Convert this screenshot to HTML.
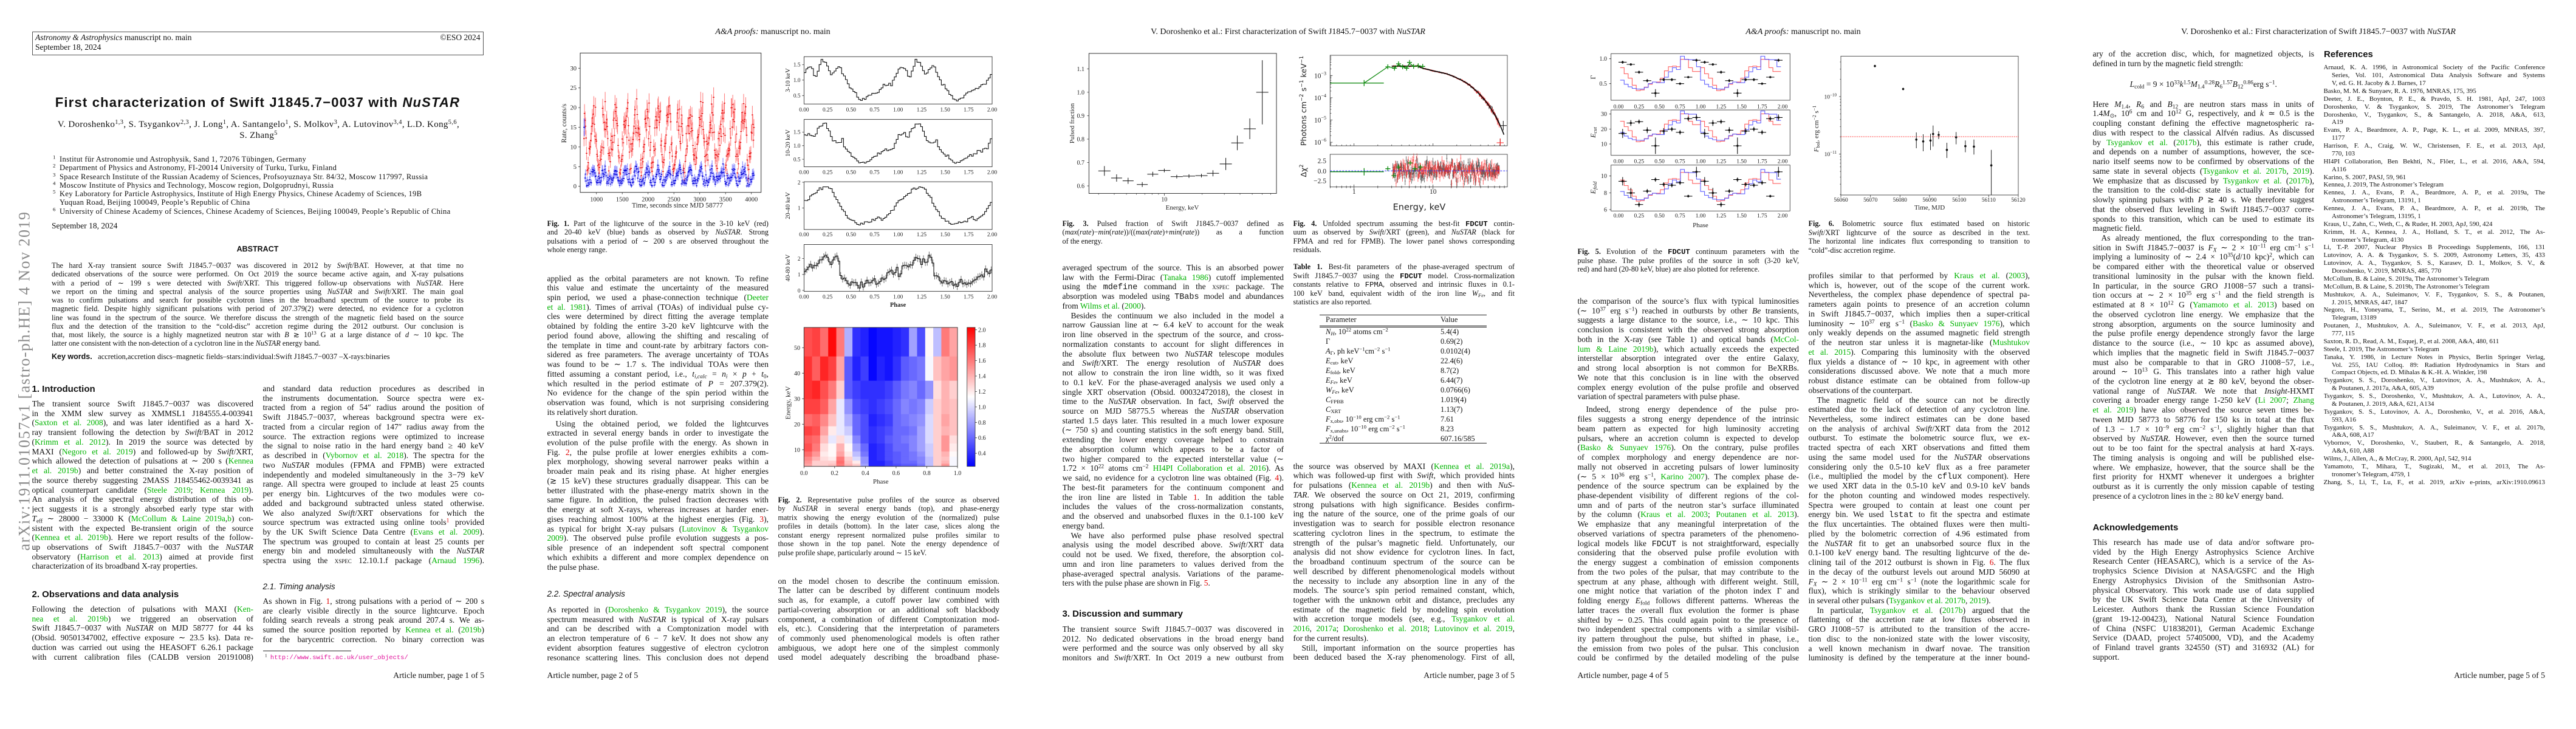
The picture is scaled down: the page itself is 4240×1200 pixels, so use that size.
<!DOCTYPE html>
<html><head><meta charset="utf-8">
<style>
*{box-sizing:border-box}
html,body{margin:0;padding:0;background:#fff}
#w{position:relative;width:4240px;height:1200px;overflow:hidden;background:#fff}
.pg{position:absolute;top:0;width:848px;height:1200px;overflow:hidden;background:#fff}
.a{position:absolute;white-space:nowrap;font-family:"Liberation Serif",serif;color:#111;line-height:1}
.c{position:absolute;width:364.5px;font-family:"Liberation Serif",serif;font-size:13.5px;line-height:15.74px;color:#111}
.c>div{height:15.74px;overflow:hidden;text-align:justify;text-align-last:justify}
.c>div.e{text-align-last:left}
.c>div.i{text-indent:14px}
.cap{font-size:12.2px;line-height:14.5px}
.cap>div{height:14.5px}
.ab{width:678px;font-size:12.2px;line-height:14.25px}
.ab>div{height:14.25px}
.rf{font-size:10.9px;line-height:12.88px}
.rf>div{height:12.88px}
.rf>div.h{padding-left:13.5px}
.sf{font-family:"Liberation Sans",sans-serif}
.g{color:#00b400}
.r{color:#e00000}
sup,sub{font-size:70%;line-height:0}
sup{vertical-align:0.5em}
sub{vertical-align:-0.25em}
.fs{position:absolute;left:0;top:0}
.b{font-weight:bold}
.tt{font-family:"Liberation Mono",monospace}
.rule{position:absolute;height:1px;background:#222}
</style>
</head>
<body>
<div id="w">

<!-- ================= PAGE 1 ================= -->
<div class="pg" style="left:0">
<div style="position:absolute;left:52.5px;top:52px;width:743.5px;height:39px;border:1px solid #555"></div>
<div class="a" style="left:58px;top:55.4px;font-size:13.5px"><i>Astronomy &amp; Astrophysics</i> manuscript no. main</div>
<div class="a" style="left:58px;top:71.4px;font-size:13.5px">September 18, 2024</div>
<div class="a" style="right:57.5px;top:55.4px;font-size:13.5px">©ESO 2024</div>

<div class="a sf b" style="left:0;width:848px;text-align:center;top:158.4px;font-size:22px;letter-spacing:1.2px">First characterization of Swift J1845.7−0037 with <i>NuSTAR</i></div>
<div class="a" style="left:0;width:851px;text-align:center;top:198.4px;font-size:15px;letter-spacing:0.35px">V. Doroshenko<sup>1,3</sup>, S. Tsygankov<sup>2,3</sup>, J. Long<sup>1</sup>, A. Santangelo<sup>1</sup>, S. Molkov<sup>3</sup>, A. Lutovinov<sup>3,4</sup>, L.D. Kong<sup>5,6</sup>,</div>
<div class="a" style="left:0;width:851px;text-align:center;top:216.3px;font-size:15px;letter-spacing:0.35px">S. Zhang<sup>5</sup></div>

<div class="a" style="left:87px;top:255.2px;font-size:12.6px;line-height:14.23px;letter-spacing:0.3px">
<div><span style="display:inline-block;width:11px"><sup>1</sup></span>Institut für Astronomie und Astrophysik, Sand 1, 72076 Tübingen, Germany</div>
<div><span style="display:inline-block;width:11px"><sup>2</sup></span>Department of Physics and Astronomy, FI-20014 University of Turku, Turku, Finland</div>
<div><span style="display:inline-block;width:11px"><sup>3</sup></span>Space Research Institute of the Russian Academy of Sciences, Profsoyuznaya Str. 84/32, Moscow 117997, Russia</div>
<div><span style="display:inline-block;width:11px"><sup>4</sup></span>Moscow Institute of Physics and Technology, Moscow region, Dolgoprudnyi, Russia</div>
<div><span style="display:inline-block;width:11px"><sup>5</sup></span>Key Laboratory for Particle Astrophysics, Institute of High Energy Physics, Chinese Academy of Sciences, 19B</div>
<div><span style="display:inline-block;width:11px"></span>Yuquan Road, Beijing 100049, People’s Republic of China</div>
<div><span style="display:inline-block;width:11px"><sup>6</sup></span>University of Chinese Academy of Sciences, Chinese Academy of Sciences, Beijing 100049, People’s Republic of China</div>
</div>
<div class="a" style="left:85px;top:365.4px;font-size:13.5px">September 18, 2024</div>

<div class="a sf b" style="left:0;width:848px;text-align:center;top:403.8px;font-size:12.5px">ABSTRACT</div>
<div class="c ab" style="left:85px;top:430px">
<div>The hard X-ray transient source Swift J1845.7−0037 was discovered in 2012 by <i>Swift</i>/BAT. However, at that time no</div>
<div>dedicated observations of the source were performed. On Oct 2019 the source became active again, and X-ray pulsations</div>
<div>with a period of ∼ 199 s were detected with <i>Swift</i>/XRT. This triggered follow-up observations with <i>NuSTAR</i>. Here</div>
<div>we report on the timing and spectral analysis of the source properties using <i>NuSTAR</i> and <i>Swift</i>/XRT. The main goal</div>
<div>was to confirm pulsations and search for possible cyclotron lines in the broadband spectrum of the source to probe its</div>
<div>magnetic field. Despite highly significant pulsations with period of 207.379(2) were detected, no evidence for a cyclotron</div>
<div>line was found in the spectrum of the source. We therefore discuss the strength of the magnetic field based on the source</div>
<div>flux and the detection of the transition to the “cold-disc” accretion regime during the 2012 outburst. Our conclusion is</div>
<div>that, most likely, the source is a highly magnetized neutron star with <i>B</i> ≳ 10<sup>13</sup> G at a large distance of <i>d</i> ∼ 10 kpc. The</div>
<div class="e">latter one consistent with the non-detection of a cyclotron line in the <i>NuSTAR</i> energy band.</div>
</div>
<div class="a" style="left:85px;top:581.3px;font-size:12.5px"><span class="sf b">Key words.</span>&nbsp;&nbsp; accretion,accretion discs–magnetic fields–stars:individual:Swift J1845.7−0037 –X-rays:binaries</div>

<div class="a sf b" style="left:52.5px;top:632.5px;font-size:15px">1. Introduction</div>
<div class="c" style="left:52.5px;top:657px">
<div>The transient source Swift J1845.7−0037 was discovered</div>
<div>in the XMM slew survey as XMMSL1 J184555.4-003941</div>
<div>(<span class="g">Saxton et al. 2008</span>), and was later identified as a hard X-</div>
<div>ray transient following the detection by <i>Swift</i>/BAT in 2012</div>
<div>(<span class="g">Krimm et al. 2012</span>). In 2019 the source was detected by</div>
<div>MAXI (<span class="g">Negoro et al. 2019</span>) and followed-up by <i>Swift</i>/XRT,</div>
<div>which allowed the detection of pulsations at ∼ 200 s (<span class="g">Kennea</span></div>
<div><span class="g">et al. 2019b</span>) and better constrained the X-ray position of</div>
<div>the source thereby suggesting 2MASS J18455462-0039341 as</div>
<div>optical counterpart candidate (<span class="g">Steele 2019</span>; <span class="g">Kennea 2019</span>).</div>
<div>An analysis of the spectral energy distribution of this ob-</div>
<div>ject suggests it is a strongly absorbed early type star with</div>
<div><i>T</i><sub>eff</sub> ∼ 28000 − 33000 K (<span class="g">McCollum &amp; Laine 2019a</span>,<span class="g">b</span>) con-</div>
<div>sistent with the expected Be-transient origin of the source</div>
<div>(<span class="g">Kennea et al. 2019b</span>). Here we report results of the follow-</div>
<div>up observations of Swift J1845.7−0037 with the <i>NuSTAR</i></div>
<div>observatory (<span class="g">Harrison et al. 2013</span>) aimed at provide first</div>
<div class="e">characterization of its broadband X-ray properties.</div>
</div>
<div class="a sf b" style="left:52.5px;top:970.5px;font-size:15px">2. Observations and data analysis</div>
<div class="c" style="left:52.5px;top:995px">
<div>Following the detection of pulsations with MAXI (<span class="g">Ken-</span></div>
<div><span class="g">nea et al. 2019b</span>) we triggered an observation of</div>
<div>Swift J1845.7−0037 with <i>NuSTAR</i> on MJD 58777 for 44 ks</div>
<div>(Obsid. 90501347002, effective exposure ∼ 23.5 ks). Data re-</div>
<div>duction was carried out using the HEASOFT 6.26.1 package</div>
<div>with current calibration files (CALDB version 20191008)</div>
</div>
<div class="c" style="left:432.5px;top:632px">
<div>and standard data reduction procedures as described in</div>
<div>the instruments documentation. Source spectra were ex-</div>
<div>tracted from a region of 54″ radius around the position of</div>
<div>Swift J1845.7−0037, whereas background spectra were ex-</div>
<div>tracted from a circular region of 147″ radius away from the</div>
<div>source. The extraction regions were optimized to increase</div>
<div>the signal to noise ratio in the hard energy band ≥ 40 keV</div>
<div>as described in (<span class="g">Vybornov et al. 2018</span>). The spectra for the</div>
<div>two <i>NuSTAR</i> modules (FPMA and FPMB) were extracted</div>
<div>independently and modeled simultaneously in the 3−79 keV</div>
<div>range. All spectra were grouped to include at least 25 counts</div>
<div>per energy bin. Lightcurves of the two modules were co-</div>
<div>added and background subtracted unless stated otherwise.</div>
<div>We also analyzed <i>Swift</i>/XRT observations for which the</div>
<div>source spectrum was extracted using online tools<sup class="r">1</sup> provided</div>
<div>by the UK Swift Science Data Centre (<span class="g">Evans et al. 2009</span>).</div>
<div>The spectrum was grouped to contain at least 25 counts per</div>
<div>energy bin and modeled simultaneously with the <i>NuSTAR</i></div>
<div>spectra using the <span style="font-variant:small-caps">xspec</span> 12.10.1.f package (<span class="g">Arnaud 1996</span>).</div>
</div>
<div class="a sf" style="left:432.5px;top:959.3px;font-size:13.5px;font-style:italic">2.1. Timing analysis</div>
<div class="c" style="left:432.5px;top:982px">
<div>As shown in Fig. <span class="r">1</span>, strong pulsations with a period of ∼ 200 s</div>
<div>are clearly visible directly in the source lightcurve. Epoch</div>
<div>folding search reveals a strong peak around 207.4 s. We as-</div>
<div>sumed the source position reported by <span class="g">Kennea et al.</span> (<span class="g">2019b</span>)</div>
<div>for the barycentric correction. No binary correction was</div>
</div>
<div class="rule" style="left:432.5px;top:1071px;width:145px;height:0.8px"></div>
<div class="a" style="left:436px;top:1078px;font-size:10.5px"><sup>1</sup>&nbsp; <span class="tt" style="color:#e0109a">http://www.swift.ac.uk/user_objects/</span></div>
<div class="a" style="right:51px;top:1104.7px;font-size:13.6px">Article number, page 1 of 5</div>
<div class="a" style="left:-241.5px;top:611.5px;width:563px;height:30px;font-size:26px;line-height:30px;letter-spacing:1.5px;color:#8a8a8a;transform:rotate(-90deg);transform-origin:center center;text-align:center">arXiv:1911.01057v1 [astro-ph.HE] 4 Nov 2019</div>
</div>

<!-- ================= PAGE 2 ================= -->
<div class="pg" style="left:848px">
<div class="a" style="left:0;width:848px;text-align:center;top:46.4px;font-size:14px"><i>A&amp;A proofs:</i> manuscript no. main</div>
<svg class="fs" width="848" height="1200" viewBox="0 0 848 1200" font-family="Liberation Serif, serif" font-size="10.5" fill="#222">
<g id="f1"></g>
<rect x="107" y="87.3" width="297.7" height="229.4" fill="none" stroke="#333" stroke-width="1"/>
<path d="M104 306.7H107M104 274.3H107M104 241.9H107M104 209.5H107M104 177.1H107M104 144.7H107M104 112.3H107M133.7 316.7V319.7M176.2 316.7V319.7M218.7 316.7V319.7M261.2 316.7V319.7M303.7 316.7V319.7M346.2 316.7V319.7M388.7 316.7V319.7" stroke="#333" stroke-width="0.8" fill="none"/>
<g text-anchor="end"><text x="101" y="310.2">0</text><text x="101" y="277.8">5</text><text x="101" y="245.4">10</text><text x="101" y="213">15</text><text x="101" y="180.6">20</text><text x="101" y="148.2">25</text><text x="101" y="115.8">30</text></g>
<g text-anchor="middle"><text x="133.7" y="331.5">1000</text><text x="176.2" y="331.5">1500</text><text x="218.7" y="331.5">2000</text><text x="261.2" y="331.5">2500</text><text x="303.7" y="331.5">3000</text><text x="346.2" y="331.5">3500</text><text x="388.7" y="331.5">4000</text></g>
<text x="267" y="341.5" text-anchor="middle" font-size="11.5">Time, seconds since MJD 58777</text>
<text transform="translate(84,203) rotate(-90)" text-anchor="middle" font-size="11.5">Rate, counts/s</text>

<g id="f2"></g>
<g fill="none" stroke="#333" stroke-width="0.9">
<rect x="475.4" y="93.3" width="309.6" height="77.9"/><rect x="475.4" y="196.6" width="309.6" height="77.9"/><rect x="475.4" y="299.2" width="309.6" height="78.6"/><rect x="475.4" y="402.5" width="309.6" height="77.1"/>
</g>
<path d="M472.4 106.4H475.4M472.4 131.8H475.4M472.4 157.3H475.4M472.4 217.4H475.4M472.4 239.8H475.4M472.4 262.1H475.4M472.4 300H475.4M472.4 342.3H475.4M472.4 425.6H475.4M472.4 451.8H475.4M472.4 478H475.4" stroke="#333" stroke-width="0.8" fill="none"/>
<g font-size="9.3" text-anchor="middle">
<g><text x="475.4" y="183.5">0.00</text><text x="514.1" y="183.5">0.25</text><text x="552.8" y="183.5">0.50</text><text x="591.5" y="183.5">0.75</text><text x="630.2" y="183.5">1.00</text><text x="668.9" y="183.5">1.25</text><text x="707.6" y="183.5">1.50</text><text x="746.3" y="183.5">1.75</text><text x="785" y="183.5">2.00</text></g>
<g><text x="475.4" y="286.5">0.00</text><text x="514.1" y="286.5">0.25</text><text x="552.8" y="286.5">0.50</text><text x="591.5" y="286.5">0.75</text><text x="630.2" y="286.5">1.00</text><text x="668.9" y="286.5">1.25</text><text x="707.6" y="286.5">1.50</text><text x="746.3" y="286.5">1.75</text><text x="785" y="286.5">2.00</text></g>
<g><text x="475.4" y="389">0.00</text><text x="514.1" y="389">0.25</text><text x="552.8" y="389">0.50</text><text x="591.5" y="389">0.75</text><text x="630.2" y="389">1.00</text><text x="668.9" y="389">1.25</text><text x="707.6" y="389">1.50</text><text x="746.3" y="389">1.75</text><text x="785" y="389">2.00</text></g>
<g><text x="475.4" y="491.5">0.00</text><text x="514.1" y="491.5">0.25</text><text x="552.8" y="491.5">0.50</text><text x="591.5" y="491.5">0.75</text><text x="630.2" y="491.5">1.00</text><text x="668.9" y="491.5">1.25</text><text x="707.6" y="491.5">1.50</text><text x="746.3" y="491.5">1.75</text><text x="785" y="491.5">2.00</text></g>
</g>
<g font-size="9.3" text-anchor="end"><text x="469.5" y="109.7">1.5</text><text x="469.5" y="135.1">1.0</text><text x="469.5" y="160.6">0.5</text><text x="469.5" y="220.7">1.5</text><text x="469.5" y="243.1">1.0</text><text x="469.5" y="265.4">0.5</text><text x="469.5" y="303.3">2</text><text x="469.5" y="345.6">1</text><text x="469.5" y="428.9">2</text><text x="469.5" y="455.1">1</text><text x="469.5" y="481.3">0</text></g>
<g font-size="10.5" text-anchor="middle"><text transform="translate(452,132) rotate(-90)">3-10 keV</text><text transform="translate(452,235.5) rotate(-90)">10-20 keV</text><text transform="translate(452,338.5) rotate(-90)">20-40 keV</text><text transform="translate(452,441) rotate(-90)">40-80 keV</text></g>
<text x="630" y="505" text-anchor="middle" font-size="10.5" font-weight="bold">Phase</text>

<g id="hm"></g>
<rect x="475.3" y="539" width="252.7" height="228.7" fill="none" stroke="#333" stroke-width="0.9"/>
<defs><linearGradient id="cb" x1="0" y1="0" x2="0" y2="1"><stop offset="0" stop-color="#ff0000"/><stop offset="0.5" stop-color="#ffffff"/><stop offset="1" stop-color="#0000ff"/></linearGradient></defs>
<rect x="743.7" y="539" width="13.3" height="228.7" fill="url(#cb)" stroke="#333" stroke-width="0.8"/>
<path d="M475.3 767.7V770.7M525.8 767.7V770.7M576.4 767.7V770.7M626.9 767.7V770.7M677.5 767.7V770.7M728 767.7V770.7M472.3 740.3H475.3M472.3 698.3H475.3M472.3 656.3H475.3M472.3 614.3H475.3M472.3 572.3H475.3M757 542.8H760M757 568.2H760M757 593.6H760M757 619H760M757 644.4H760M757 669.9H760M757 695.3H760M757 720.7H760M757 746.1H760" stroke="#333" stroke-width="0.8" fill="none"/>
<g font-size="10" text-anchor="middle"><text x="475.3" y="782">0.0</text><text x="525.8" y="782">0.2</text><text x="576.4" y="782">0.4</text><text x="626.9" y="782">0.6</text><text x="677.5" y="782">0.8</text><text x="728" y="782">1.0</text></g>
<g font-size="10" text-anchor="end"><text x="469" y="743.8">10</text><text x="469" y="701.8">20</text><text x="469" y="659.8">30</text><text x="469" y="617.8">40</text><text x="469" y="575.8">50</text></g>
<g font-size="10"><text x="762" y="546.3">2.0</text><text x="762" y="571.7">1.8</text><text x="762" y="597.1">1.6</text><text x="762" y="622.5">1.4</text><text x="762" y="647.9">1.2</text><text x="762" y="673.4">1.0</text><text x="762" y="698.8">0.8</text><text x="762" y="724.2">0.6</text><text x="762" y="749.6">0.4</text></g>
<text x="601.7" y="796" text-anchor="middle" font-size="11">Phase</text>
<text transform="translate(452.5,663) rotate(-90)" text-anchor="middle" font-size="11">Energy, keV</text>
</svg>

<div class="c cap" style="left:52.5px;top:360.5px">
<div><b>Fig. 1.</b> Part of the lightcurve of the source in the 3-10 keV (red)</div>
<div>and 20-40 keV (blue) bands as observed by <i>NuSTAR</i>. Strong</div>
<div>pulsations with a period of ∼ 200 s are observed throughout the</div>
<div class="e">whole energy range.</div>
</div>
<div class="c" style="left:52.5px;top:450.5px">
<div>applied as the orbital parameters are not known. To refine</div>
<div>this value and estimate the uncertainty of the measured</div>
<div>spin period, we used a phase-connection technique (<span class="g">Deeter</span></div>
<div><span class="g">et al. 1981</span>). Times of arrival (TOAs) of individual pulse cy-</div>
<div>cles were determined by direct fitting the average template</div>
<div>obtained by folding the entire 3-20 keV lightcurve with the</div>
<div>period found above, allowing the shifting and rescaling of</div>
<div>the template in time and count-rate by arbitrary factors con-</div>
<div>sidered as free parameters. The average uncertainty of TOAs</div>
<div>was found to be ∼ 1.7 s. The individual TOAs were then</div>
<div>fitted assuming a constant period, i.e., <i>t<sub>i,calc</sub></i> = <i>n<sub>i</sub></i> × <i>p</i> + <i>t</i><sub>0</sub>,</div>
<div>which resulted in the period estimate of <i>P</i> = 207.379(2).</div>
<div>No evidence for the change of the spin period within the</div>
<div>observation was found, which is not surprising considering</div>
<div class="e">its relatively short duration.</div>
</div>
<div class="c" style="left:52.5px;top:689.5px">
<div class="i">Using the obtained period, we folded the lightcurves</div>
<div>extracted in several energy bands in order to investigate the</div>
<div>evolution of the pulse profile with the energy. As shown in</div>
<div>Fig. <span class="r">2</span>, the pulse profile at lower energies exhibits a com-</div>
<div>plex morphology, showing several narrower peaks within a</div>
<div>broader main peak and its rising phase. At higher energies</div>
<div>(≳ 15 keV) these structures gradually disappear. This can be</div>
<div>better illustrated with the phase-energy matrix shown in the</div>
<div>same figure. In addition, the pulsed fraction decreases with</div>
<div>the energy at soft X-rays, whereas increases at harder ener-</div>
<div>gises reaching almost 100% at the highest energies (Fig. <span class="r">3</span>),</div>
<div>as typical for bright X-ray pulsars (<span class="g">Lutovinov &amp; Tsygankov</span></div>
<div><span class="g">2009</span>). The observed pulse profile evolution suggests a pos-</div>
<div>sible presence of an independent soft spectral component</div>
<div>which exhibits a different and more complex dependence on</div>
<div class="e">the pulse phase.</div>
</div>
<div class="a sf" style="left:52.5px;top:970.8px;font-size:13.5px;font-style:italic">2.2. Spectral analysis</div>
<div class="c" style="left:52.5px;top:996px">
<div>As reported in (<span class="g">Doroshenko &amp; Tsygankov 2019</span>), the source</div>
<div>spectrum measured with <i>NuSTAR</i> is typical of X-ray pulsars</div>
<div>and can be described with a Comptonization model with</div>
<div>an electron temperature of 6 − 7 keV. It does not show any</div>
<div>evident absorption features suggestive of electron cyclotron</div>
<div>resonance scattering lines. This conclusion does not depend</div>
</div>
<div class="c cap" style="left:432.5px;top:815.5px">
<div><b>Fig. 2.</b> Representative pulse profiles of the source as observed</div>
<div>by <i>NuSTAR</i> in several energy bands (top), and phase-energy</div>
<div>matrix showing the energy evolution of the (normalized) pulse</div>
<div>profiles in details (bottom). In the later case, slices along the</div>
<div>constant energy represent normalized pulse profiles similar to</div>
<div>those shown in the top panel. Note the energy dependence of</div>
<div class="e">pulse profile shape, particularly around ∼ 15 keV.</div>
</div>
<div class="c" style="left:432.5px;top:948.6px">
<div>on the model chosen to describe the continuum emission.</div>
<div>The latter can be described by different continuum models</div>
<div>such as, for example, a cutoff power law combined with</div>
<div>partial-covering absorption or an additional soft blackbody</div>
<div>component, a combination of different Comptonization mod-</div>
<div>els, etc.). Considering that the interpretation of parameters</div>
<div>of commonly used phenomenological models is often rather</div>
<div>ambiguous, we adopt here one of the simplest commonly</div>
<div>used model adequately describing the broadband phase-</div>
</div>
<div class="a" style="left:52.5px;top:1104.7px;font-size:13.6px">Article number, page 2 of 5</div>
</div>

<!-- ================= PAGE 3 ================= -->
<div class="pg" style="left:1696px">
<div class="a" style="left:0;width:848px;text-align:center;top:46.4px;font-size:14px">V. Doroshenko et al.: First characterization of Swift J1845.7−0037 with <i>NuSTAR</i></div>
<svg class="fs" width="848" height="1200" viewBox="0 0 848 1200" font-family="Liberation Serif, serif" font-size="10.5" fill="#222">
<rect x="96.4" y="87.9" width="308.6" height="230.5" fill="none" stroke="#333" stroke-width="1"/>
<path d="M93.4 113.3H96.4M93.4 151.9H96.4M93.4 190.4H96.4M93.4 229H96.4M93.4 267.5H96.4M93.4 306H96.4M220.4 318.4V322M112.2 318.4V320.4M138 318.4V320.4M158.1 318.4V320.4M174.5 318.4V320.4M188.3 318.4V320.4M200.3 318.4V320.4M210.9 318.4V320.4M282.7 318.4V320.4M319.2 318.4V320.4M345 318.4V320.4M365.1 318.4V320.4M381.5 318.4V320.4M395.4 318.4V320.4" stroke="#333" stroke-width="0.8" fill="none"/>
<path d="M111.8 281.4H131.8M121.8 273.4V289.4M132.9 293H150.9M141.9 287V299M151.8 297.6H169.8M160.8 292.6V302.6M175.1 303.8H193.1M184.1 299.8V307.8M192.4 286.8H210.4M201.4 282.8V290.8M210.4 280.6H230.4M220.4 277.6V283.6M230.9 290.7H250.9M240.9 287.7V293.7M251 289.9H271M261 286.9V292.9M271.5 289.1H291.5M281.5 286.1V292.1M290.5 285.3H310.5M300.5 280.3V290.3M311.6 269.9H331.6M321.6 259.9V279.9M330.6 235.2H350.6M340.6 223.2V247.2M351.1 212H371.1M361.1 195V229M371.7 151.9H391.7M381.7 99.1V204.7" stroke="#111" stroke-width="1" fill="none"/>
<g text-anchor="end" font-size="10"><text x="89" y="116.8">1.1</text><text x="89" y="155.4">1.0</text><text x="89" y="193.9">0.9</text><text x="89" y="232.5">0.8</text><text x="89" y="271">0.7</text><text x="89" y="309.5">0.6</text></g>
<text x="220.4" y="331.5" text-anchor="middle" font-size="10">10</text>
<text x="250" y="345" text-anchor="middle" font-size="11">Energy, keV</text>
<text transform="translate(72,203) rotate(-90)" text-anchor="middle" font-size="11">Pulsed fraction</text>

<g id="f4"></g>
<g fill="none" stroke="#444" stroke-width="0.9"><rect x="493.3" y="91" width="291.7" height="149"/><rect x="493.3" y="254" width="291.7" height="53.7"/></g>
<path d="M493.3 136.7H581.7M549.3 131.7V141.7M545.3 136.7H553.3M549.3 136.7L588.3 110L599.3 112L606 106L612.7 110L619.3 112L624 104L630.7 109L638.3 108.3L645.7 109.3M584.3 110H592.3M588.3 106V114M595.3 112.3H603.3M599.3 108.3V116.3M602 105H610M606 101V109M608.7 110H616.7M612.7 106V114M615.3 112.3H623.3M619.3 108.3V116.3M620 102.7H628M624 98.7V106.7M626.7 109.3H634.7M630.7 105.3V113.3M634.3 108.3H642.3M638.3 104.3V112.3M641.7 109.3H649.7M645.7 105.3V113.3" stroke="#108a10" stroke-width="1.3" fill="none"/>
<path d="M493.3 282.7H581.7M549.3 276.7V288.7M584.3 277.7H592.3M588.3 273.7V281.7M594.3 289H602.3M598.3 285V293M602 275H610M606 271V279M621 268.3H629M625 264.3V272.3M628.7 277.7H636.7M632.7 273.7V281.7M638.3 275H646.3M642.3 271V279" stroke="#108a10" stroke-width="1.3" fill="none"/>
<path d="M493.3 281.3H785" stroke="#2a2aff" stroke-width="1" stroke-dasharray="3 2" fill="none"/>
<path d="M773 206.7H784M778.3 199V214.5M767.5 235H779M773.3 228V240" stroke="#111" stroke-width="1" fill="none"/>
<path d="M767.5 235H779M773.3 228V240" stroke="#ff2020" stroke-width="1" fill="none"/>
<g font-size="11.5" text-anchor="end"><text x="487" y="128.3">10<tspan dy="-5" font-size="8">−3</tspan></text><text x="487" y="165">10<tspan dy="-5" font-size="8">−4</tspan></text><text x="487" y="201.7">10<tspan dy="-5" font-size="8">−5</tspan></text><text x="487" y="238">10<tspan dy="-5" font-size="8">−6</tspan></text><text x="487" y="268.3">2.5</text><text x="487" y="285.3">0.0</text><text x="487" y="301.7">−2.5</text></g>
<g font-size="11.5" text-anchor="middle"><text x="532.7" y="319">1</text><text x="662.7" y="319">10</text></g>
<text x="640" y="345.5" text-anchor="middle" font-size="14.5" font-family="DejaVu Sans, sans-serif">Energy, keV</text>
<text transform="translate(454,166) rotate(-90)" text-anchor="middle" font-size="12.5" font-family="DejaVu Sans, sans-serif">Photons cm<tspan dy="-5" font-size="8.5">−2</tspan><tspan dy="5"> s</tspan><tspan dy="-5" font-size="8.5">−1</tspan><tspan dy="5"> keV</tspan><tspan dy="-5" font-size="8.5">−1</tspan></text>
<text transform="translate(454,281) rotate(-90)" text-anchor="middle" font-size="12.5" font-family="DejaVu Sans, sans-serif">Δχ<tspan dy="-5" font-size="8.5">2</tspan></text>
</svg>
<div class="c cap" style="left:52.5px;top:360.5px">
<div><b>Fig. 3.</b> Pulsed fraction of Swift J1845.7−0037 defined as</div>
<div>(<i>max</i>(<i>rate</i>)−<i>min</i>(<i>rate</i>))/((<i>max</i>(<i>rate</i>)+<i>min</i>(<i>rate</i>)) as a function</div>
<div class="e">of the energy.</div>
</div>
<div class="c" style="left:52.5px;top:433px">
<div>averaged spectrum of the source. This is an absorbed power</div>
<div>law with the Fermi-Dirac (<span class="g">Tanaka 1986</span>) cutoff implemented</div>
<div>using the <span class="tt">mdefine</span> command in the <span style="font-variant:small-caps">xspec</span> package. The</div>
<div>absorption was modeled using <span class="tt">TBabs</span> model and abundances</div>
<div class="e">from <span class="g">Wilms et al.</span> (<span class="g">2000</span>).</div>
<div class="i">Besides the continuum we also included in the model a</div>
<div>narrow Gaussian line at ∼ 6.4 keV to account for the weak</div>
<div>iron line observed in the spectrum of the source, and cross-</div>
<div>normalization constants to account for slight differences in</div>
<div>the absolute flux between two <i>NuSTAR</i> telescope modules</div>
<div>and <i>Swift</i>/XRT. The energy resolution of <i>NuSTAR</i> does</div>
<div>not allow to constrain the iron line width, so it was fixed</div>
<div>to 0.1 keV. For the phase-averaged analysis we used only a</div>
<div>single XRT observation (Obsid. 00032472018), the closest in</div>
<div>time to the <i>NuSTAR</i> observation. In fact, <i>Swift</i> observed the</div>
<div>source on MJD 58775.5 whereas the <i>NuSTAR</i> observation</div>
<div>started 1.5 days later. This resulted in a much lower exposure</div>
<div>(∼ 750 s) and counting statistics in the soft energy band. Still,</div>
<div>extending the lower energy coverage helped to constrain</div>
<div>the absorption column which appears to be a factor of</div>
<div>two higher compared to the expected interstellar value (∼</div>
<div>1.72 × 10<sup>22</sup> atoms cm<sup>−2</sup> <span class="g">HI4PI Collaboration et al. 2016</span>). As</div>
<div>we said, no evidence for a cyclotron line was obtained (Fig. <span class="r">4</span>).</div>
<div>The best-fit parameters for the continuum component and</div>
<div>the iron line are listed in Table <span class="r">1</span>. In addition the table</div>
<div>includes the values of the cross-normalization constants,</div>
<div>and the observed and unabsorbed fluxes in the 0.1-100 keV</div>
<div class="e">energy band.</div>
<div class="i">We have also performed pulse phase resolved spectral</div>
<div>analysis using the model described above. <i>Swift</i>/XRT data</div>
<div>could not be used. We fixed, therefore, the absorption col-</div>
<div>umn and iron line parameters to values derived from the</div>
<div>phase-averaged spectral analysis. Variations of the parame-</div>
<div class="e">ters with the pulse phase are shown in Fig. <span class="r">5</span>.</div>
</div>
<div class="a sf b" style="left:52.5px;top:1002.5px;font-size:15px">3. Discussion and summary</div>
<div class="c" style="left:52.5px;top:1028px">
<div>The transient source Swift J1845.7−0037 was discovered in</div>
<div>2012. No dedicated observations in the broad energy band</div>
<div>were performed and the source was only observed by all sky</div>
<div>monitors and <i>Swift</i>/XRT. In Oct 2019 a new outburst from</div>
</div>
<div class="c cap" style="left:432.5px;top:360.5px">
<div><b>Fig. 4.</b> Unfolded spectrum assuming the best-fit <span class="tt b">FDCUT</span> contin-</div>
<div>uum as observed by <i>Swift</i>/XRT (green), and <i>NuSTAR</i> (black for</div>
<div>FPMA and red for FPMB). The lower panel shows corresponding</div>
<div class="e">residuals.</div>
</div>
<div class="c cap" style="left:432.5px;top:432px;line-height:14.3px">
<div><b>Table 1.</b> Best-fit parameters of the phase-averaged spectrum of</div>
<div>Swift J1845.7−0037 using the <span class="tt b">FDCUT</span> model. Cross-normalization</div>
<div>constants relative to <span class="tt">FPMA</span>, observed and intrinsic fluxes in 0.1-</div>
<div>100 keV band, equivalent width of the iron line <i>W<sub>Fe</sub></i>, and fit</div>
<div class="e">statistics are also reported.</div>
</div>
<div class="rule" style="left:476px;top:518px;width:275px"></div>
<div class="rule" style="left:476px;top:535.5px;width:275px"></div>
<div class="rule" style="left:476px;top:538px;width:275px"></div>
<div class="rule" style="left:476px;top:729px;width:275px"></div>
<div class="a" style="left:486px;top:519.8px;font-size:12.5px">Parameter</div>
<div class="a" style="left:675px;top:519.8px;font-size:12.5px">Value</div>
<div class="a" style="left:486px;top:538.2px;font-size:12.5px;line-height:16px">
<div><i>N<sub>H</sub></i>, 10<sup>22</sup> atoms cm<sup>−2</sup></div>
<div>Γ</div>
<div><i>A</i><sub>Γ</sub>, ph keV<sup>−1</sup>cm<sup>−2</sup> s<sup>−1</sup></div>
<div><i>E</i><sub>cut</sub>, keV</div>
<div><i>E</i><sub>fold</sub>, keV</div>
<div><i>E<sub>Fe</sub></i>, keV</div>
<div><i>W<sub>Fe</sub></i>, keV</div>
<div><i>C</i><sub>FPBB</sub></div>
<div><i>C</i><sub>XRT</sub></div>
<div><i>F</i><sub>x,obs</sub>, 10<sup>−10</sup> erg cm<sup>−2</sup> s<sup>−1</sup></div>
<div><i>F</i><sub>x,unabs</sub>, 10<sup>−10</sup> erg cm<sup>−2</sup> s<sup>−1</sup></div>
<div>χ<sup>2</sup>/dof</div>
</div>
<div class="a" style="left:675px;top:538.2px;font-size:12.5px;line-height:16px">
<div>5.4(4)</div><div>0.69(2)</div><div>0.0102(4)</div><div>22.4(6)</div><div>8.7(2)</div><div>6.44(7)</div><div>0.0766(6)</div><div>1.019(4)</div><div>1.13(7)</div><div>7.61</div><div>8.23</div><div>607.16/585</div>
</div>
<div class="c" style="left:432.5px;top:759.7px">
<div>the source was observed by MAXI (<span class="g">Kennea et al. 2019a</span>),</div>
<div>which was followed-up first with <i>Swift</i>, which provided hints</div>
<div>for pulsations (<span class="g">Kennea et al. 2019b</span>) and then with <i>NuS-</i></div>
<div><i>TAR</i>. We observed the source on Oct 21, 2019, confirming</div>
<div>strong pulsations with high significance. Besides confirm-</div>
<div>ing the nature of the source, one of the prime goals of our</div>
<div>investigation was to search for possible electron resonance</div>
<div>scattering cyclotron lines in the spectrum, to estimate the</div>
<div>strength of the pulsar’s magnetic field. Unfortunately, our</div>
<div>analysis did not show evidence for cyclotron lines. In fact,</div>
<div>the broadband continuum spectrum of the source can be</div>
<div>well described by different phenomenological models without</div>
<div>the necessity to include any absorption line in any of the</div>
<div>models. The source’s spin period remained constant, which,</div>
<div>together with the unknown orbit and distance, precludes any</div>
<div>estimate of the magnetic field by modeling spin evolution</div>
<div>with accretion torque models (see, e.g., <span class="g">Tsygankov et al.</span></div>
<div><span class="g">2016</span>, <span class="g">2017a</span>; <span class="g">Doroshenko et al. 2018</span>; <span class="g">Lutovinov et al. 2019</span>,</div>
<div class="e">for the current results).</div>
<div class="i">Still, important information on the source properties has</div>
<div>been deduced based the X-ray phenomenology. First of all,</div>
</div>
<div class="a" style="right:51px;top:1104.7px;font-size:13.6px">Article number, page 3 of 5</div>
</div>

<!-- ================= PAGE 4 ================= -->
<div class="pg" style="left:2544px">
<div class="a" style="left:0;width:848px;text-align:center;top:46.4px;font-size:14px"><i>A&amp;A proofs:</i> manuscript no. main</div>
<svg class="fs" width="848" height="1200" viewBox="0 0 848 1200" font-family="Liberation Serif, serif" font-size="10" fill="#222">
<g id="f5"></g>
<g fill="none" stroke="#444" stroke-width="0.9"><rect x="107.7" y="88.3" width="294.6" height="76.7"/><rect x="107.7" y="181" width="294.6" height="74.7"/><rect x="107.7" y="271.7" width="294.6" height="75.6"/></g>
<path d="M104.7 96.7H107.7M104.7 137.7H107.7M104.7 187.7H107.7M104.7 212.4H107.7M104.7 237H107.7M104.7 289.7H107.7M104.7 317.4H107.7M104.7 345H107.7" stroke="#333" stroke-width="0.8" fill="none"/>
<g text-anchor="middle" font-size="9.5">
<g><text x="120" y="178.5">0.00</text><text x="153.75" y="178.5">0.25</text><text x="187.5" y="178.5">0.50</text><text x="221.25" y="178.5">0.75</text><text x="255" y="178.5">1.00</text><text x="288.75" y="178.5">1.25</text><text x="322.5" y="178.5">1.50</text><text x="356.25" y="178.5">1.75</text><text x="390" y="178.5">2.00</text></g>
<g><text x="120" y="268.5">0.00</text><text x="153.75" y="268.5">0.25</text><text x="187.5" y="268.5">0.50</text><text x="221.25" y="268.5">0.75</text><text x="255" y="268.5">1.00</text><text x="288.75" y="268.5">1.25</text><text x="322.5" y="268.5">1.50</text><text x="356.25" y="268.5">1.75</text><text x="390" y="268.5">2.00</text></g>
<g><text x="120" y="357.8">0.00</text><text x="153.75" y="357.8">0.25</text><text x="187.5" y="357.8">0.50</text><text x="221.25" y="357.8">0.75</text><text x="255" y="357.8">1.00</text><text x="288.75" y="357.8">1.25</text><text x="322.5" y="357.8">1.50</text><text x="356.25" y="357.8">1.75</text><text x="390" y="357.8">2.00</text></g>
</g>
<g text-anchor="end" font-size="10"><text x="101" y="100.2">1.0</text><text x="101" y="141.2">0.5</text><text x="101" y="191.2">30</text><text x="101" y="215.9">20</text><text x="101" y="240.5">10</text><text x="101" y="293.2">10</text><text x="101" y="320.9">8</text><text x="101" y="348.5">6</text></g>
<text x="255" y="374" text-anchor="middle" font-size="11">Phase</text>
<g font-size="12" text-anchor="middle"><text transform="translate(82,127) rotate(-90)">Γ</text><text transform="translate(82,218) rotate(-90)"><tspan font-style="italic">E</tspan><tspan font-size="8.5" font-style="italic" dy="2">cut</tspan></text><text transform="translate(82,309) rotate(-90)"><tspan font-style="italic">E</tspan><tspan font-size="8.5" font-style="italic" dy="2">fold</tspan></text></g>

<g fill="none" stroke="#444" stroke-width="0.9"><rect x="486" y="92.5" width="292" height="228.5"/></g>
<path d="M486 225H778" stroke="#ff2020" stroke-width="1" stroke-dasharray="1.5 1.5" fill="none"/>
<path d="M486 321V324.5M534.7 321V324.5M583.3 321V324.5M632 321V324.5M680.7 321V324.5M729.3 321V324.5M778 321V324.5M483 159H486M483 253.7H486M484.5 130.5H486M484.5 113.8H486M484.5 102H486M484.5 225.2H486M484.5 208.5H486M484.5 196.7H486M484.5 187.5H486M484.5 180H486M484.5 173.7H486M484.5 168.2H486M484.5 163.5H486M484.5 258H486M484.5 262.9H486M484.5 268.4H486M484.5 274.7H486M484.5 282.2H486M484.5 291.4H486M484.5 303.2H486M484.5 320.2H486" stroke="#333" stroke-width="0.8" fill="none"/>
<path d="M610.2 218V244M621.5 221V249M633.5 220V247M637.8 206.6V241.3M647 216V229M660.5 235V260M675.7 217.4V237.5M690.9 231.3V250.6M705 229.8V254.4M733.6 246.7V320.7M542 106.7V110.7M588.5 144.5V148.5" stroke="#222" stroke-width="1" fill="none"/>
<g fill="#111"><circle cx="542" cy="108.7" r="1.8"/><circle cx="588.5" cy="146.5" r="1.8"/><circle cx="610.2" cy="229.8" r="1.8"/><circle cx="621.5" cy="232.8" r="1.8"/><circle cx="633.5" cy="231.3" r="1.8"/><circle cx="637.8" cy="220.5" r="1.8"/><circle cx="647" cy="222" r="1.8"/><circle cx="660.5" cy="246.7" r="1.8"/><circle cx="675.7" cy="226" r="1.8"/><circle cx="690.9" cy="240.6" r="1.8"/><circle cx="705" cy="241.3" r="1.8"/><circle cx="733.6" cy="272.2" r="1.8"/></g>
<g text-anchor="middle" font-size="9.3"><text x="486" y="332">56060</text><text x="534.7" y="332">56070</text><text x="583.3" y="332">56080</text><text x="632" y="332">56090</text><text x="680.7" y="332">56100</text><text x="729.3" y="332">56110</text><text x="778" y="332">56120</text></g>
<g text-anchor="end" font-size="9.5"><text x="479" y="162.5">10<tspan dy="-4" font-size="7">−10</tspan></text><text x="479" y="257.2">10<tspan dy="-4" font-size="7">−11</tspan></text></g>
<text x="632" y="345" text-anchor="middle" font-size="11">Time, MJD</text>
<text transform="translate(449,212) rotate(-90)" text-anchor="middle" font-size="11"><tspan font-style="italic">F</tspan><tspan font-size="8" dy="2">bol</tspan><tspan dy="-2">, erg cm</tspan><tspan font-size="8" dy="-4">−2</tspan><tspan dy="4"> s</tspan><tspan font-size="8" dy="-4">−1</tspan></text>
</svg>
<div class="c cap" style="left:52.5px;top:407px">
<div><b>Fig. 5.</b> Evolution of the <span class="tt b">FDCUT</span> continuum parameters with the</div>
<div>pulse phase. The pulse profiles of the source in soft (3-20 keV,</div>
<div class="e">red) and hard (20-80 keV, blue) are also plotted for reference.</div>
</div>
<div class="c" style="left:52.5px;top:488px">
<div>the comparison of the source’s flux with typical luminosities</div>
<div>(∼ 10<sup>37</sup> erg s<sup>−1</sup>) reached in outbursts by other <i>Be</i> transients,</div>
<div>suggests a large distance to the source, i.e., ∼ 10 kpc. This</div>
<div>conclusion is consistent with the observed strong absorption</div>
<div>both in the X-ray (see Table 1) and optical bands (<span class="g">McCol-</span></div>
<div><span class="g">lum &amp; Laine 2019b</span>), which actually exceeds the expected</div>
<div>interstellar absorption integrated over the entire Galaxy,</div>
<div>and strong local absorption is not common for BeXRBs.</div>
<div>We note that this conclusion is in line with the observed</div>
<div>complex energy evolution of the pulse profile and observed</div>
<div class="e">variation of spectral parameters with pulse phase.</div>
</div>
<div class="c" style="left:52.5px;top:666.4px">
<div class="i">Indeed, strong energy dependence of the pulse pro-</div>
<div>files suggests a strong energy dependence of the intrinsic</div>
<div>beam pattern as expected for high luminosity accreting</div>
<div>pulsars, where an accretion column is expected to develop</div>
<div>(<span class="g">Basko &amp; Sunyaev 1976</span>). On the contrary, pulse profiles</div>
<div>of complex morphology and energy dependence are nor-</div>
<div>mally not observed in accreting pulsars of lower luminosity</div>
<div>(∼ 5 × 10<sup>36</sup> erg s<sup>−1</sup>, <span class="g">Karino 2007</span>). The complex phase de-</div>
<div>pendence of the source spectrum can be explained by the</div>
<div>phase-dependent visibility of different regions of the col-</div>
<div>umn and of parts of the neutron star’s surface illuminated</div>
<div>by the column (<span class="g">Kraus et al. 2003</span>; <span class="g">Poutanen et al. 2013</span>).</div>
<div>We emphasize that any meaningful interpretation of the</div>
<div>observed variations of spectra parameters of the phenomeno-</div>
<div>logical models like <span class="tt">FDCUT</span> is not straightforward, especially</div>
<div>considering that the observed pulse profile evolution with</div>
<div>the energy suggest a combination of emission components</div>
<div>from the two poles of the pulsar, that may contribute to the</div>
<div>spectrum at any phase, although with different weight. Still,</div>
<div>one might notice that variation of the photon index Γ and</div>
<div>folding energy <i>E</i><sub>fold</sub> follows different patterns. Whereas the</div>
<div>latter traces the overall flux evolution the former is phase</div>
<div>shifted by ∼ 0.25. This could again point to the presence of</div>
<div>two independent spectral components with a similar visibil-</div>
<div>ity pattern throughout the pulse, but shifted in phase, i.e.,</div>
<div>the emission from two poles of the pulsar. This conclusion</div>
<div>could be confirmed by the detailed modeling of the pulse</div>
</div>
<div class="c cap" style="left:432.5px;top:361px">
<div><b>Fig. 6.</b> Bolometric source flux estimated based on historic</div>
<div><i>Swift</i>/XRT lightcurve of the source as described in the text.</div>
<div>The horizontal line indicates flux corresponding to transition to</div>
<div class="e">“cold”-disc accretion regime.</div>
</div>
<div class="c" style="left:432.5px;top:446px">
<div>profiles similar to that performed by <span class="g">Kraus et al.</span> (<span class="g">2003</span>),</div>
<div>which is, however, out of the scope of the current work.</div>
<div>Nevertheless, the complex phase dependence of spectral pa-</div>
<div>rameters again points to presence of an accretion column</div>
<div>in Swift J1845.7−0037, which implies then a super-critical</div>
<div>luminosity ∼ 10<sup>37</sup> erg s<sup>−1</sup> (<span class="g">Basko &amp; Sunyaev 1976</span>), which</div>
<div>only weakly depends on the assumed magnetic field strength</div>
<div>of the neutron star unless it is magnetar-like (<span class="g">Mushtukov</span></div>
<div><span class="g">et al. 2015</span>). Comparing this luminosity with the observed</div>
<div>flux yields a distance of ∼ 10 kpc, in agreement with other</div>
<div>considerations discussed above. We note that a much more</div>
<div>robust distance estimate can be obtained from follow-up</div>
<div class="e">observations of the counterpart.</div>
<div class="i">The magnetic field of the source can not be directly</div>
<div>estimated due to the lack of detection of any cyclotron line.</div>
<div>Nevertheless, some indirect estimates can be done based</div>
<div>on the analysis of archival <i>Swift</i>/XRT data from the 2012</div>
<div>outburst. To estimate the bolometric source flux, we ex-</div>
<div>tracted spectra of each XRT observations and fitted them</div>
<div>using the same model used for the <i>NuSTAR</i> observations</div>
<div>considering only the 0.5-10 keV flux as a free parameter</div>
<div>(i.e., multiplied the model by the <span class="tt">cflux</span> component). Here</div>
<div>we used XRT data in the 0.5-10 keV and 0.9-10 keV bands</div>
<div>for the photon counting and windowed modes respectively.</div>
<div>Spectra were grouped to contain at least one count per</div>
<div>energy bin. We used <span class="tt">lstat</span> to fit the spectra and estimate</div>
<div>the flux uncertainties. The obtained fluxes were then multi-</div>
<div>plied by the bolometric correction of 4.96 estimated from</div>
<div>the <i>NuSTAR</i> fit to get an unabsorbed source flux in the</div>
<div>0.1-100 keV energy band. The resulting lightcurve of the de-</div>
<div>clining tail of the 2012 outburst is shown in Fig. <span class="r">6</span>. The flux</div>
<div>in the decay of the outburst levels out around MJD 56090 at</div>
<div><i>F<sub>X</sub></i> ∼ 2 × 10<sup>−11</sup> erg cm<sup>−1</sup> s<sup>−1</sup> (note the logarithmic scale for</div>
<div>flux), which is strikingly similar to the behaviour observed</div>
<div class="e">in several other pulsars (<span class="g">Tsygankov et al. 2017b</span>, <span class="g">2019</span>).</div>
<div class="i">In particular, <span class="g">Tsygankov et al.</span> (<span class="g">2017b</span>) argued that the</div>
<div>flattening of the accretion rate at low fluxes observed in</div>
<div>GRO J1008−57 is attributed to the transition of the accre-</div>
<div>tion disc to the non-ionized state with the lower viscosity,</div>
<div>a well known mechanism in dwarf novae. The transition</div>
<div>luminosity is defined by the temperature at the inner bound-</div>
</div>
<div class="a" style="left:52.5px;top:1104.7px;font-size:13.6px">Article number, page 4 of 5</div>
</div>

<!-- ================= PAGE 5 ================= -->
<div class="pg" style="left:3392px">
<div class="a" style="left:0;width:848px;text-align:center;top:46.4px;font-size:14px">V. Doroshenko et al.: First characterization of Swift J1845.7−0037 with <i>NuSTAR</i></div>
<div class="c" style="left:52.5px;top:81px">
<div>ary of the accretion disc, which, for magnetized objects, is</div>
<div class="e">defined in turn by the magnetic field strength:</div>
</div>
<div class="a" style="left:52.5px;width:364.5px;text-align:center;top:132.2px;font-size:13.5px"><i>L</i><sub>cold</sub> = 9 × 10<sup>33</sup><i>k</i><sup>1.5</sup><i>M</i><sub>1.4</sub><sup>0.28</sup><i>R</i><sub>6</sub><sup>1.57</sup><i>B</i><sub>12</sub><sup>0.86</sup>erg s<sup>−1</sup>.</div>
<div class="c" style="left:52.5px;top:163.7px">
<div>Here <i>M</i><sub>1.4</sub>, <i>R</i><sub>6</sub> and <i>B</i><sub>12</sub> are neutron stars mass in units of</div>
<div>1.4<i>M</i><sub>⊙</sub>, 10<sup>6</sup> cm and 10<sup>12</sup> G, respectively, and <i>k</i> ≃ 0.5 is the</div>
<div>coupling constant defining the effective magnetospheric ra-</div>
<div>dius with respect to the classical Alfvén radius. As discussed</div>
<div>by <span class="g">Tsygankov et al.</span> (<span class="g">2017b</span>), this estimate is rather crude,</div>
<div>and depends on a number of assumptions, however, the sce-</div>
<div>nario itself seems now to be confirmed by observations of the</div>
<div>same state in several objects (<span class="g">Tsygankov et al. 2017b</span>, <span class="g">2019</span>).</div>
<div>We emphasize that as discussed by <span class="g">Tsygankov et al.</span> (<span class="g">2017b</span>),</div>
<div>the transition to the cold-disc state is actually inevitable for</div>
<div>slowly spinning pulsars with <i>P</i> ≳ 40 s. We therefore suggest</div>
<div>that the observed flux leveling in Swift J1845.7−0037 corre-</div>
<div>sponds to this transition, which can be used to estimate its</div>
<div class="e">magnetic field.</div>
</div>
<div class="c" style="left:52.5px;top:384px">
<div class="i">As already mentioned, the flux corresponding to the tran-</div>
<div>sition in Swift J1845.7−0037 is <i>F<sub>X</sub></i> ∼ 2 × 10<sup>−11</sup> erg cm<sup>−1</sup> s<sup>−1</sup></div>
<div>implying a luminosity of ∼ 2.4 × 10<sup>35</sup>(<i>d</i>/10 kpc)<sup>2</sup>, which can</div>
<div>be compared either with the theoretical value or observed</div>
<div>transitional luminosity in the pulsar with the known field.</div>
<div>In particular, in the source GRO J1008−57 such a transi-</div>
<div>tion occurs at ∼ 2 × 10<sup>35</sup> erg s<sup>−1</sup> and the field strength is</div>
<div>estimated at 8 × 10<sup>12</sup> G (<span class="g">Yamamoto et al. 2013</span>) based on</div>
<div>the observed cyclotron line energy. We emphasize that the</div>
<div>strong absorption, arguments on the source luminosity and</div>
<div>the pulse profile energy dependence strongly favor the large</div>
<div>distance to the source (i.e., ∼ 10 kpc as assumed above),</div>
<div>which implies that the magnetic field in Swift J1845.7−0037</div>
<div>must also be comparable to that in GRO J1008−57, i.e.,</div>
<div>around ∼ 10<sup>13</sup> G. This translates into a rather high value</div>
<div>of the cyclotron line energy at ≳ 80 keV, beyond the obser-</div>
<div>vational range of <i>NuSTAR</i>. We note that <i>Insight</i>-HXMT</div>
<div>covering a broader energy range 1-250 keV (<span class="g">Li 2007</span>; <span class="g">Zhang</span></div>
<div><span class="g">et al. 2019</span>) have also observed the source seven times be-</div>
<div>tween MJD 58773 to 58776 for 150 ks in total at the flux</div>
<div>of 1.3 − 1.7 × 10<sup>−9</sup> erg cm<sup>−2</sup> s<sup>−1</sup>, slightly higher than that</div>
<div>observed by <i>NuSTAR</i>. However, even then the source turned</div>
<div>out to be too faint for the spectral analysis at hard X-rays.</div>
<div>The timing analysis is ongoing and will be published else-</div>
<div>where. We emphasize, however, that the source shall be the</div>
<div>first priority for HXMT whenever it undergoes a brighter</div>
<div>outburst as it is currently the only mission capable of testing</div>
<div class="e">presence of a cyclotron lines in the ≥ 80 keV energy band.</div>
</div>
<div class="a sf b" style="left:52.5px;top:860.5px;font-size:15px">Acknowledgements</div>
<div class="c" style="left:52.5px;top:885px">
<div>This research has made use of data and/or software pro-</div>
<div>vided by the High Energy Astrophysics Science Archive</div>
<div>Research Center (HEASARC), which is a service of the As-</div>
<div>trophysics Science Division at NASA/GSFC and the High</div>
<div>Energy Astrophysics Division of the Smithsonian Astro-</div>
<div>physical Observatory. This work made use of data supplied</div>
<div>by the UK Swift Science Data Centre at the University of</div>
<div>Leicester. Authors thank the Russian Science Foundation</div>
<div>(grant 19-12-00423), National Natural Science Foundation</div>
<div>of China (NSFC U1838201), German Academic Exchange</div>
<div>Service (DAAD, project 57405000, VD), and the Academy</div>
<div>of Finland travel grants 324550 (ST) and 316932 (AL) for</div>
<div class="e">support.</div>
</div>
<div class="a sf b" style="left:433px;top:81.9px;font-size:15px">References</div>
<div class="c rf" style="left:432.5px;top:105.3px">
<div>Arnaud, K. A. 1996, in Astronomical Society of the Pacific Conference</div>
<div class="h">Series, Vol. 101, Astronomical Data Analysis Software and Systems</div>
<div class="h e">V, ed. G. H. Jacoby &amp; J. Barnes, 17</div>
<div class="e">Basko, M. M. &amp; Sunyaev, R. A. 1976, MNRAS, 175, 395</div>
<div>Deeter, J. E., Boynton, P. E., &amp; Pravdo, S. H. 1981, ApJ, 247, 1003</div>
<div>Doroshenko, V. &amp; Tsygankov, S. 2019, The Astronomer’s Telegram</div>
<div>Doroshenko, V., Tsygankov, S., &amp; Santangelo, A. 2018, A&amp;A, 613,</div>
<div class="h e">A19</div>
<div>Evans, P. A., Beardmore, A. P., Page, K. L., et al. 2009, MNRAS, 397,</div>
<div class="h e">1177</div>
<div>Harrison, F. A., Craig, W. W., Christensen, F. E., et al. 2013, ApJ,</div>
<div class="h e">770, 103</div>
<div>HI4PI Collaboration, Ben Bekhti, N., Flöer, L., et al. 2016, A&amp;A, 594,</div>
<div class="h e">A116</div>
<div class="e">Karino, S. 2007, PASJ, 59, 961</div>
<div class="e">Kennea, J. 2019, The Astronomer’s Telegram</div>
<div>Kennea, J. A., Evans, P. A., Beardmore, A. P., et al. 2019a, The</div>
<div class="h e">Astronomer’s Telegram, 13191, 1</div>
<div>Kennea, J. A., Evans, P. A., Beardmore, A. P., et al. 2019b, The</div>
<div class="h e">Astronomer’s Telegram, 13195, 1</div>
<div class="e">Kraus, U., Zahn, C., Weth, C., &amp; Ruder, H. 2003, ApJ, 590, 424</div>
<div>Krimm, H. A., Kennea, J. A., Holland, S. T., et al. 2012, The As-</div>
<div class="h e">tronomer’s Telegram, 4130</div>
<div>Li, T.-P. 2007, Nuclear Physics B Proceedings Supplements, 166, 131</div>
<div>Lutovinov, A. A. &amp; Tsygankov, S. S. 2009, Astronomy Letters, 35, 433</div>
<div>Lutovinov, A. A., Tsygankov, S. S., Karasev, D. I., Molkov, S. V., &amp;</div>
<div class="h e">Doroshenko, V. 2019, MNRAS, 485, 770</div>
<div class="e">McCollum, B. &amp; Laine, S. 2019a, The Astronomer’s Telegram</div>
<div class="e">McCollum, B. &amp; Laine, S. 2019b, The Astronomer’s Telegram</div>
<div>Mushtukov, A. A., Suleimanov, V. F., Tsygankov, S. S., &amp; Poutanen,</div>
<div class="h e">J. 2015, MNRAS, 447, 1847</div>
<div>Negoro, H., Yoneyama, T., Serino, M., et al. 2019, The Astronomer’s</div>
<div class="h e">Telegram, 13189</div>
<div>Poutanen, J., Mushtukov, A. A., Suleimanov, V. F., et al. 2013, ApJ,</div>
<div class="h e">777, 115</div>
<div class="e">Saxton, R. D., Read, A. M., Esquej, P., et al. 2008, A&amp;A, 480, 611</div>
<div class="e">Steele, I. 2019, The Astronomer’s Telegram</div>
<div>Tanaka, Y. 1986, in Lecture Notes in Physics, Berlin Springer Verlag,</div>
<div class="h">Vol. 255, IAU Colloq. 89: Radiation Hydrodynamics in Stars and</div>
<div class="h e">Compact Objects, ed. D. Mihalas &amp; K.-H. A. Winkler, 198</div>
<div>Tsygankov, S. S., Doroshenko, V., Lutovinov, A. A., Mushtukov, A. A.,</div>
<div class="h e">&amp; Poutanen, J. 2017a, A&amp;A, 605, A39</div>
<div>Tsygankov, S. S., Doroshenko, V., Mushtukov, A. A., Lutovinov, A. A.,</div>
<div class="h e">&amp; Poutanen, J. 2019, A&amp;A, 621, A134</div>
<div>Tsygankov, S. S., Lutovinov, A. A., Doroshenko, V., et al. 2016, A&amp;A,</div>
<div class="h e">593, A16</div>
<div>Tsygankov, S. S., Mushtukov, A. A., Suleimanov, V. F., et al. 2017b,</div>
<div class="h e">A&amp;A, 608, A17</div>
<div>Vybornov, V., Doroshenko, V., Staubert, R., &amp; Santangelo, A. 2018,</div>
<div class="h e">A&amp;A, 610, A88</div>
<div class="e">Wilms, J., Allen, A., &amp; McCray, R. 2000, ApJ, 542, 914</div>
<div>Yamamoto, T., Mihara, T., Sugizaki, M., et al. 2013, The As-</div>
<div class="h e">tronomer’s Telegram, 4759, 1</div>
<div>Zhang, S., Li, T., Lu, F., et al. 2019, arXiv e-prints, arXiv:1910.09613</div>
</div>
<div class="a" style="right:51px;top:1104.7px;font-size:13.6px">Article number, page 5 of 5</div>
</div>

</div>
<script>
(function(){
var S=12345;function R(){S=(S*16807)%2147483647;return S/2147483647;}
function G(){return (R()+R()+R()+R()+R()+R()-3)*1.41;}
function ip(p,x){x-=Math.floor(x);for(var i=1;i<p.length;i++){if(x<=p[i][0]){var a=p[i-1],b=p[i];return a[1]+(b[1]-a[1])*(x-a[0])/(b[0]-a[0]);}}return p[p.length-1][1];}
function f(v){return v.toFixed(1);}
function P(d,c,w,o){return '<path d="'+d+'" fill="none" stroke="'+c+'" stroke-width="'+w+'"'+(o!=null?' stroke-opacity="'+o+'"':'')+'/>';}
function put(id,s){var e=document.getElementById(id);if(e)e.innerHTML=s;}
var P1=[[0,1.24],[0.04,1.44],[0.1,1.32],[0.12,1.0],[0.17,1.47],[0.19,1.65],[0.23,1.55],[0.27,1.32],[0.3,1.17],[0.34,1.35],[0.38,1.5],[0.41,1.24],[0.46,0.94],[0.53,0.64],[0.58,0.41],[0.62,0.33],[0.69,0.48],[0.78,0.64],[0.85,0.79],[0.93,0.86],[0.96,1.05],[1,1.24]];
var P2=[[0,1.36],[0.06,1.45],[0.1,1.28],[0.15,1.62],[0.2,1.79],[0.23,1.84],[0.27,1.53],[0.3,1.19],[0.37,1.1],[0.41,1.19],[0.44,0.88],[0.53,0.59],[0.6,0.36],[0.67,0.41],[0.78,0.67],[0.86,0.81],[0.95,0.88],[0.98,1.2],[1,1.36]];
var P3=[[0,1.25],[0.08,1.44],[0.15,1.71],[0.22,1.84],[0.29,1.71],[0.36,1.25],[0.43,0.8],[0.5,0.53],[0.58,0.35],[0.67,0.44],[0.74,0.53],[0.79,0.67],[0.83,0.53],[0.92,0.8],[1,1.25]];
var P4=[[0,1.0],[0.06,1.6],[0.15,1.75],[0.22,2.05],[0.29,1.75],[0.36,2.35],[0.39,0.9],[0.46,0.6],[0.6,0.3],[0.7,0.45],[0.81,0.6],[0.92,1.2],[0.98,1.2],[1,1.0]];
/* Fig 1 */
var re='',rm='',be='',bm='';
for(var t=760;t<=4050;t+=10){
 var ph=(t-700)/207.38;
 var r=12.5*ip(P1,ph)+G()*2.2;if(r<1.5)r=1.5;
 var e=0.45*Math.sqrt(r)+0.4;
 var x=133.7+(t-1000)*0.085,y=306.7-6.48*r;
 re+='M'+f(x)+' '+f(y-6.48*e)+'V'+f(y+6.48*e);
 rm+='M'+f(x-1.3)+' '+f(y)+'H'+f(x+1.3);
 var b=(t<775?15:2.3*ip(P3,ph)+G()*0.8);if(b<0.05)b=0.05+R()*0.3;
 var eb=0.5*Math.sqrt(b)+0.3,yb=306.7-6.48*b;
 be+='M'+f(x)+' '+f(yb-6.48*eb)+'V'+f(yb+6.48*eb);
 bm+='M'+f(x-1.3)+' '+f(yb)+'H'+f(x+1.3);
}
put('f1',P(re,'#ff3030',1.1,0.6)+P(rm,'#e00000',1.3)+P(be,'#3a3aff',1.1,0.6)+P(bm,'#0000d0',1.3));
/* Fig 2 profiles */
function prof(p,y0,sc,noise,eb){
 var N=50,d='',e='',vals=[];
 for(var i=0;i<2*N;i++){vals.push(ip(p,(i+0.5)/N)+G()*noise);}
 for(var i=0;i<2*N;i++){var x0=475.4+154.8*i/N,x1=475.4+154.8*(i+1)/N,y=y0-sc*(vals[i]-1);
  d+=(i==0?'M'+f(x0)+' '+f(y):'V'+f(y))+'H'+f(x1);
  if(eb){var xc=(x0+x1)/2;e+='M'+f(xc)+' '+f(y-eb*sc)+'V'+f(y+eb*sc);}
 }
 return (eb?P(e,'#444',0.8):'')+P(d,'#111',1.1);
}
put('f2',prof(P1,131.8,50.9,0.03,0)+prof(P2,239.8,44.6,0.03,0)+prof(P3,342.3,42.3,0.03,0)+prof(P4,451.8,26.2,0.13,0.22));
/* heatmap */
var H=[[1.75,1.8,1.65,2.0,1.6,0.85,0.4,0.35,0.25,0.3,0.3,0.35,0.4,0.8,0.5,1.15,0.9,1.6,1.45],
[1.85,1.7,1.9,1.8,1.45,0.55,0.35,0.45,0.25,0.35,0.3,0.4,0.55,0.6,0.65,1.1,1.35,1.45,1.5],
[1.85,1.9,1.75,1.6,1.3,0.55,0.45,0.4,0.4,0.4,0.45,0.55,0.65,0.7,0.6,0.75,1.25,1.4,1.3],
[1.8,1.8,1.7,1.45,1.05,0.75,0.5,0.45,0.4,0.45,0.5,0.6,0.7,0.65,0.7,0.95,1.3,1.4,1.35],
[1.65,1.7,1.55,1.35,1.05,0.85,0.6,0.5,0.35,0.4,0.45,0.6,0.65,0.7,0.75,1.0,1.3,1.45,1.35],
[1.8,1.75,1.45,1.2,1.05,0.95,0.6,0.5,0.4,0.45,0.5,0.6,0.6,0.65,0.8,1.0,1.3,1.4,1.35],
[1.7,1.65,1.35,1.05,1.25,1.05,0.7,0.5,0.4,0.45,0.55,0.6,0.65,0.7,0.8,1.0,1.3,1.5,1.25],
[1.75,1.6,1.25,1.15,1.4,1.15,0.8,0.6,0.35,0.4,0.5,0.6,0.6,0.7,0.8,0.95,1.3,1.5,1.2],
[1.65,1.5,1.2,1.15,1.45,1.2,0.9,0.65,0.35,0.4,0.5,0.55,0.6,0.65,0.75,0.95,1.3,1.4,1.15],
[1.55,1.4,1.25,1.2,1.6,1.3,1.0,0.75,0.35,0.4,0.5,0.55,0.6,0.65,0.7,0.9,1.3,1.35,1.1],
[1.5,1.3,1.3,1.3,1.65,1.35,1.2,0.75,0.35,0.35,0.45,0.55,0.6,0.6,0.7,0.9,1.3,1.4,1.1],
[1.45,1.3,1.3,1.35,1.6,1.4,1.3,0.8,0.35,0.35,0.45,0.5,0.55,0.55,0.65,0.9,1.3,1.5,1.1]];
var yb=[539,586.7,626.7,656.7,681.7,701.7,716.7,730,743.3,751.7,758.3,763.3,767.7];
function bwr(v){var t=(v-0.23)/1.8;t=Math.max(0,Math.min(1,t));var r,g,b;if(t<0.5){r=g=Math.round(510*t);b=255;}else{r=255;g=b=Math.round(255*(2-2*t));}return 'rgb('+r+','+g+','+b+')';}
var hs='';for(var i=0;i<12;i++)for(var j=0;j<19;j++){var x0=475.3+252.7*j/19;hs+='<rect x="'+x0.toFixed(2)+'" y="'+yb[i]+'" width="'+(252.7/19+0.35).toFixed(2)+'" height="'+(yb[i+1]-yb[i]+0.35).toFixed(2)+'" fill="'+bwr(H[i][j])+'"/>';}
put('hm',hs);
/* Fig 4 */
function mdl(E){var k=[[3,-2.58],[6.3,-2.58],[6.4,-2.54],[6.6,-2.6],[7.5,-2.68],[10,-2.79],[15,-2.93],[20,-3.11],[25,-3.28],[30,-3.475],[40,-3.885],[50,-4.31],[60,-4.75],[70,-5.2],[79,-5.66]];
 if(E<=k[0][0])return k[0][1];
 for(var i=1;i<k.length;i++){if(E<=k[i][0]){var a=k[i-1],b=k[i];return a[1]+(b[1]-a[1])*(E-a[0])/(b[0]-a[0]);}}return k[k.length-1][1];}
function X4(E){return 532.7+130*Math.log(E)/Math.LN10;}
function Y4(l){return 124.3-36.6*(l+3);}
var s4='';
['#222','#ff2020'].forEach(function(c,ci){var d='',dr='',n=200;
 for(var i=0;i<n;i++){var E=3.1*Math.pow(70/3.1,i/n);var x=X4(E);var sd=0.01+0.05*Math.max(0,(E-20)/50);var l=mdl(E)+G()*sd;var y=Y4(l);var ey=36.6*(0.012+sd*1.2);
  d+='M'+f(x)+' '+f(y-ey)+'V'+f(y+ey)+'M'+f(x-1)+' '+f(y)+'H'+f(x+1);
  var rr=G()*1.2;if(rr>3.3)rr=3.3;if(rr<-3.3)rr=-3.3;var yr=281.3-6.7*rr;dr+='M'+f(x)+' '+f(yr-6.7)+'V'+f(yr+6.7)+'M'+f(x-1)+' '+f(yr)+'H'+f(x+1);
 }
 s4+=P(d,c,0.9,0.8)+P(dr,c,0.9,0.7);
});
var md='';for(var i=0;i<=120;i++){var E=3*Math.pow(79/3,i/120);md+=(i?'L':'M')+f(X4(E))+' '+f(Y4(mdl(E)));}
s4+=P(md,'#000',1.5);
var mt='';
for(var dcd=-7;dcd<=-2;dcd++){for(var m=1;m<10;m++){var yy=Y4(dcd+Math.log(m)/Math.LN10);if(yy>91&&yy<240)mt+='M493.3 '+f(yy)+'H'+(m==1?'497.3':'495.3');}}
[0.5,0.6,0.7,0.8,0.9,1,2,3,4,5,6,7,8,9,10,20,30,40,50,60,70,80].forEach(function(E){var x=X4(E);if(x>493&&x<785){var L=(E==1||E==10)?4:2;mt+='M'+f(x)+' 240V'+(240-L)+'M'+f(x)+' 307.7V'+(307.7-L)+'M'+f(x)+' 307.7V'+(307.7+L);}});
s4+=P(mt,'#333',0.8);
put('f4',s4);
/* Fig 5 */
var RR=[0.72,0.53,0.39,0.17,0.0,0.02,0.11,0.2,0.27,0.27,0.39,0.62,0.75,0.77,0.75,0.98,0.98,0.72,0.6,0.6];
var BB=[0.33,0.2,0.12,0.07,0.05,0.05,0.1,0.22,0.27,0.25,0.25,0.42,0.59,0.72,0.66,1.08,0.98,0.97,0.97,0.75];
var pan=[{y:function(v){return 96.7-82*(v-1);},m:function(q){return 0.36+0.64*q;},pts:[0.93,0.886,0.73,0.56,0.31,0.58,0.58,0.50,0.63,0.97],er:[0.03,0.025,0.03,0.03,0.08,0.03,0.03,0.02,0.015,0.03]},
{y:function(v){return 187.7-2.465*(v-30);},m:function(q){return 11.5+19*q;},pts:[17,24,24.9,19.2,8.8,18.6,19.9,17.8,26.9,27.7],er:[3,2,1.5,2,5.5,2,1.5,1.5,1.5,2]},
{y:function(v){return 289.7-13.83*(v-10);},m:function(q){return 7.0+3.5*q;},pts:[9.37,7.98,6.6,8.2,9.57,9.0,8.9,9.2,7.6,10.5],er:[0.5,0.6,0.3,0.25,0.25,0.25,0.25,0.25,0.15,0.6]}];
var s5='';
pan.forEach(function(p){
 [['#ff5050',RR],['#5050ff',BB]].forEach(function(cc){var d='';
  for(var k=0;k<40;k++){var x0=120+135*(0.02+0.049*k),x1=120+135*(0.02+0.049*(k+1));var y=p.y(p.m(cc[1][k%20]));d+=(k==0?'M'+f(x0)+' '+f(y):'V'+f(y))+'H'+f(x1);}
  s5+=P(d,cc[0],1.1,0.9);});
 var d='',cs='';
 for(var k=0;k<20;k++){var i=k%10;var ph=0.05+0.1*k;var x=120+135*ph,y=p.y(p.pts[i]),ey=Math.abs(p.y(p.pts[i]+p.er[i])-y);
  d+='M'+f(x-6.75)+' '+f(y)+'H'+f(x+6.75)+'M'+f(x)+' '+f(y-ey)+'V'+f(y+ey);
  cs+='<circle cx="'+f(x)+'" cy="'+f(y)+'" r="1.8" fill="#111"/>';}
 s5+=P(d,'#111',1.1)+cs;
});
put('f5',s5);
})();
</script>
</body></html>
